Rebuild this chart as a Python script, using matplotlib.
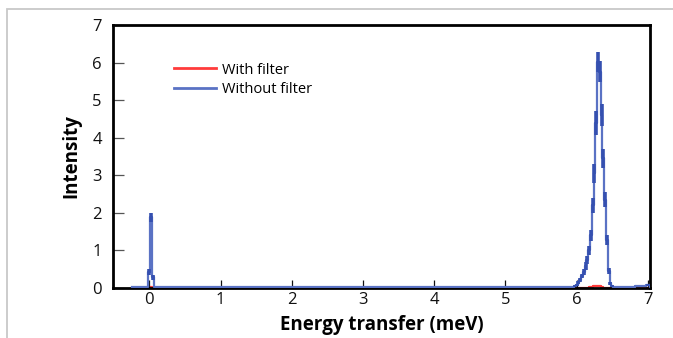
import numpy as np
import matplotlib
matplotlib.use("Agg")
import matplotlib.pyplot as plt
from matplotlib.patches import Rectangle

plt.rcParams['font.family'] = ['Open Sans', 'DejaVu Sans']

# Spectrum without filter: energy (meV) and intensity, histogram bins of 0.025 meV
e_unfilt = [-0.250, -0.100, -0.075, -0.050, -0.025, 0.000, 0.025, 0.050, 0.075, 0.100,
            0.300, 0.650, 0.700, 1.800, 2.950, 3.000, 4.200, 5.500,
            5.925, 5.950, 5.975, 6.000, 6.025, 6.050, 6.075, 6.100, 6.125, 6.150, 6.175,
            6.200, 6.225, 6.250, 6.275, 6.300, 6.325, 6.350, 6.375, 6.400, 6.425,
            6.450, 6.475, 6.500, 6.525, 6.550, 6.700, 6.950, 7.000, 7.050]
i_unfilt = [0.02, 0.02, 0.03, 0.02, 0.03, 0.42, 1.88, 0.28, 0.03, 0.02,
            0.02, 0.03, 0.02, 0.03, 0.03, 0.02, 0.03, 0.02,
            0.02, 0.03, 0.05, 0.08, 0.14, 0.22, 0.32, 0.42, 0.58, 0.75, 1.00,
            1.40, 2.20, 3.05, 4.40, 6.02, 5.75, 4.60, 3.45, 2.35, 1.28,
            0.45, 0.12, 0.05, 0.03, 0.02, 0.02, 0.04, 0.08, 0.03]
err_unfilt = [0.00, 0.00, 0.00, 0.00, 0.00, 0.08, 0.12, 0.06, 0.00, 0.00,
              0.00, 0.00, 0.00, 0.00, 0.00, 0.00, 0.00, 0.00,
              0.00, 0.00, 0.02, 0.03, 0.04, 0.05, 0.06, 0.08, 0.10, 0.11, 0.13,
              0.15, 0.20, 0.25, 0.32, 0.27, 0.28, 0.30, 0.26, 0.20, 0.14,
              0.08, 0.04, 0.02, 0.00, 0.00, 0.00, 0.00, 0.03, 0.00]

# Spectrum with filter: almost flat, small bump near 6.3 meV
e_filt = [-0.250, 0.000, 0.025, 0.050, 6.150, 6.200, 6.250, 6.275, 6.300, 6.325, 6.350, 6.400, 7.050]
i_filt = [0.00, 0.00, 0.03, 0.00, 0.00, 0.02, 0.04, 0.05, 0.06, 0.04, 0.03, 0.00, 0.00]

x_ticks = [0, 1, 2, 3, 4, 5, 6, 7]
y_ticks = [0, 1, 2, 3, 4, 5, 6, 7]

fig = plt.figure(figsize=(6.73, 3.38), dpi=100)
ax = fig.add_axes([113 / 673, 1 - 288 / 338, (650 - 113) / 673, (288 - 25) / 338])

# light grey outer frame
fig.patches.append(Rectangle((7 / 673, -0.1), 1.2, 1 - 9 / 338 + 0.1,
                             transform=fig.transFigure, fill=False,
                             edgecolor='#c8c8c8', linewidth=1.3))

red = '#ff3b3b'
blue = '#3550b0'
ax.step(e_filt, i_filt, where='mid', color=red, lw=1.6, label='With filter', zorder=1)
ax.step(e_unfilt, i_unfilt, where='mid', color='#5a72c4', lw=1.6, label='Without filter', zorder=3)
ax.errorbar(e_unfilt, i_unfilt, yerr=err_unfilt, fmt='none', ecolor=blue,
            elinewidth=2.6, capsize=0, zorder=4)

ax.set_xlim(-0.51, 7.03)
ax.set_ylim(0, 7)
ax.set_xticks(x_ticks)
ax.set_yticks(y_ticks)
ax.tick_params(axis='both', direction='in', labelsize=12, width=0.9, colors='#111111')
ax.tick_params(axis='y', length=8, color='#555555', pad=8)
ax.tick_params(axis='x', length=6, pad=3)
for s in ax.spines.values():
    s.set_linewidth(2.0)
    s.set_color('black')

ax.set_xlabel('Energy transfer (meV)', fontsize=13.5, fontweight='bold', labelpad=5)
ax.set_ylabel('Intensity', fontsize=13.5, fontweight='bold', labelpad=8)

leg = ax.legend(loc='upper left', bbox_to_anchor=(0.1, 0.885), frameon=False,
                fontsize=10.5, handlelength=2.9, handletextpad=0.4,
                labelspacing=0.3, borderpad=0)
for h in leg.get_lines():
    h.set_linewidth(2.0)

fig.savefig('out.png', dpi=100)
